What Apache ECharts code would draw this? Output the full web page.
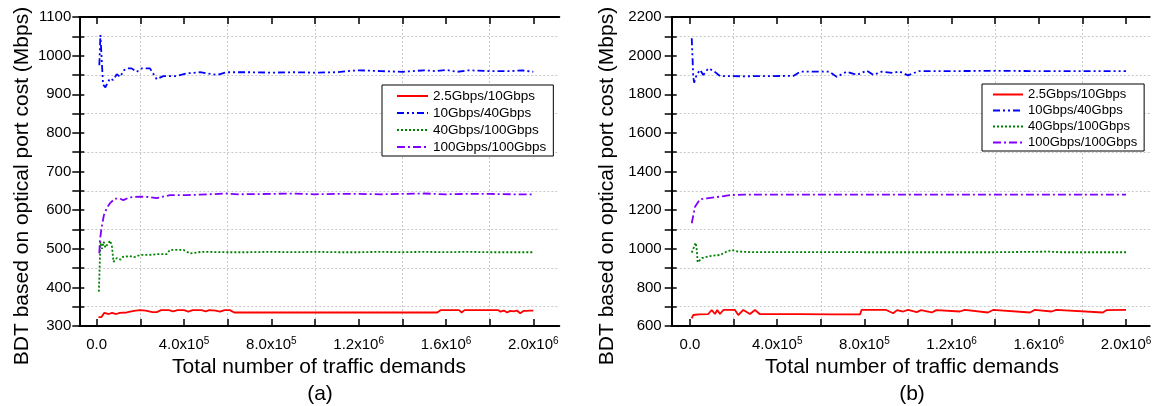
<!DOCTYPE html>
<html><head><meta charset="utf-8">
<script src="https://cdn.jsdelivr.net/npm/echarts@6/dist/echarts.min.js"></script>
<style>html,body{margin:0;padding:0;background:#fff}#c{width:1156px;height:406px}</style>
</head><body><div id="c"></div>
<script>
// ---------- data ----------
const seriesNames = ['2.5Gbps/10Gbps', '10Gbps/40Gbps', '40Gbps/100Gbps', '100Gbps/100Gbps'];
const xTitle = 'Total number of traffic demands';
const yTitle = 'BDT based on optical port cost (Mbps)';
const captions = ['(a)', '(b)'];
const xTicks = [0, 400000, 800000, 1200000, 1600000, 2000000];
const yRangeA = [300, 1100];
const yRangeB = [600, 2200];

// chart (a)
const aRed = [[8000,323],[22000,323],[35000,334],[55000,331],[70000,334],[90000,331],[105000,334],[137000,335],[170000,339],[198000,341],[225000,340],[255000,336],[275000,336],[295000,341],[330000,341],[350000,338],[370000,341],[400000,341],[420000,337],[440000,341],[480000,341],[500000,338],[515000,341],[545000,340],[565000,337],[585000,341],[610000,341],[630000,335],[800000,335],[1000000,335],[1200000,335],[1400000,335],[1560000,335],[1575000,341],[1660000,341],[1672000,335],[1685000,341],[1840000,341],[1850000,337],[1865000,340],[1880000,335],[1895000,339],[1910000,338],[1925000,340],[1940000,333],[1955000,339],[1970000,339],[1985000,340],[2000000,340]];
const aBlue = [[12000,975],[17000,1053],[22000,1000],[29000,925],[40000,918],[50000,930],[61000,941],[75000,937],[92000,952],[107000,945],[125000,962],[137000,967],[160000,967],[183000,958],[206000,967],[244000,967],[275000,939],[305000,947],[366000,947],[412000,954],[473000,957],[550000,950],[596000,957],[700000,957],[800000,956],[900000,957],[1000000,956],[1100000,957],[1150000,960],[1200000,962],[1300000,960],[1400000,958],[1450000,960],[1500000,962],[1550000,960],[1600000,963],[1650000,958],[1700000,962],[1800000,960],[1900000,960],[1950000,962],[2000000,958]];
const aGreen = [[10000,389],[17000,518],[24000,500],[32000,518],[40000,503],[50000,512],[62000,521],[70000,505],[77000,466],[92000,476],[110000,472],[120000,479],[150000,481],[170000,478],[200000,484],[240000,484],[280000,486],[320000,486],[336000,497],[397000,497],[427000,488],[480000,492],[600000,491],[700000,491],[800000,492],[900000,491],[1000000,492],[1100000,491],[1200000,491],[1300000,492],[1400000,491],[1500000,492],[1600000,491],[1700000,492],[1800000,491],[1900000,491],[2000000,491]];
const aPurple = [[12000,488],[15000,523],[23000,557],[33000,587],[46000,605],[61000,618],[84000,630],[105000,630],[122000,626],[150000,633],[198000,635],[235000,634],[275000,631],[336000,639],[412000,639],[473000,640],[596000,643],[650000,641],[800000,642],[900000,643],[1000000,641],[1100000,642],[1200000,642],[1300000,641],[1400000,642],[1500000,643],[1600000,641],[1700000,642],[1800000,642],[1900000,641],[2000000,641]];

// chart (b)
const bRed = [[8000,640],[15000,657],[40000,660],[84000,662],[99500,683],[114700,662],[125000,683],[137600,662],[153000,683],[206000,683],[221700,657],[244500,683],[275000,662],[298000,683],[321000,661],[500000,661],[650000,660],[780000,660],[787000,683],[900000,683],[932000,666],[950000,682],[978000,675],[1000000,683],[1040000,672],[1060000,682],[1109000,670],[1130000,682],[1238000,675],[1260000,683],[1367000,670],[1390000,683],[1560000,670],[1580000,683],[1659000,675],[1680000,683],[1894000,670],[1910000,682],[2000000,683]];
const bBlue = [[8000,2090],[15000,1891],[19000,1860],[30000,1900],[46000,1926],[61000,1900],[84000,1934],[107000,1922],[138000,1894],[170000,1894],[250000,1893],[350000,1894],[474000,1895],[505000,1917],[566000,1917],[640000,1917],[673000,1890],[719000,1917],[765000,1900],[811000,1922],[841000,1900],[880000,1917],[930000,1910],[960000,1918],[1000000,1898],[1050000,1920],[1200000,1920],[1400000,1921],[1600000,1920],[1800000,1920],[2000000,1920]];
const bGreen = [[8000,980],[15000,985],[26000,1031],[31000,994],[35000,930],[54000,951],[92000,962],[138000,968],[168000,985],[191000,994],[222000,985],[300000,982],[500000,983],[800000,982],[1100000,982],[1400000,982],[1650000,985],[1700000,982],[2000000,982]];
const bPurple = [[8000,1132],[23000,1218],[46000,1256],[77000,1261],[138000,1270],[183000,1278],[250000,1280],[500000,1280],[800000,1280],[1100000,1280],[1400000,1280],[1700000,1280],[2000000,1280]];

// ---------- styles ----------
const FONT = "'Liberation Sans', Arial, sans-serif";
const lineStyles = [
  {color: '#ff0000', type: 'solid'},
  {color: '#0000ff', type: [7, 3, 2, 3, 2, 3]},
  {color: '#008000', type: [2, 2]},
  {color: '#8000ff', type: [8, 3, 2, 3]}
];
const gridLine = {show: true, lineStyle: {color: '#c8c8c8', type: [2, 2], width: 1}};
const black = '#000';

function fmtX(v) {
  if (v === 0) return '{n|0.0}';
  const e = Math.floor(Math.log10(v) + 1e-9);
  const m = (v / Math.pow(10, e)).toFixed(1);
  return '{n|' + m + 'x10}{s|' + e + '}';
}

const grids = [
  {left: 79.3, top: 17, width: 480, height: 309},
  {left: 96.7, top: 17, width: 436.6, height: 309},
  {left: 671.7, top: 17, width: 478, height: 309},
  {left: 690, top: 17, width: 436, height: 309}
];

function frameX(gi, pos) {
  return {type: 'value', gridIndex: gi, position: pos, min: 0, max: 1,
    axisLine: {show: true, lineStyle: {color: black, width: 2}},
    axisTick: {show: false}, axisLabel: {show: false}, splitLine: {show: false}};
}
function dataX(gi, pos, labels) {
  return {type: 'value', gridIndex: gi, position: pos, min: xTicks[0], max: xTicks[xTicks.length - 1],
    interval: xTicks[1] - xTicks[0],
    axisLine: {show: false},
    axisTick: {show: true, inside: true, length: 7, lineStyle: {color: black, width: 1.5}},
    minorTick: {show: true, splitNumber: 2, length: 7, lineStyle: {color: black, width: 1.5}},
    splitLine: {show: false},
    minorSplitLine: labels ? gridLine : {show: false},
    axisLabel: labels ? {show: true, margin: 10, formatter: fmtX, color: black,
      rich: {n: {fontSize: 15, fontFamily: FONT, color: black, lineHeight: 18},
             s: {fontSize: 10, fontFamily: FONT, color: black, lineHeight: 18, verticalAlign: 'top'}}} : {show: false}};
}
function frameY(gi, pos, range, step, labels, margin) {
  return {type: 'value', gridIndex: gi, position: pos, min: range[0], max: range[1], interval: step,
    axisLine: {show: true, lineStyle: {color: black, width: 2}},
    axisTick: {show: true, inside: true, length: labels ? 5 : 7, lineStyle: {color: black, width: 1.5}},
    minorTick: {show: true, splitNumber: 2, length: labels ? 5 : 7, lineStyle: {color: black, width: 1.5}},
    splitLine: {show: false},
    minorSplitLine: labels ? gridLine : {show: false},
    axisLabel: labels ? {show: true, margin: margin, fontSize: 15, fontFamily: FONT, color: black,
      formatter: v => String(v)} : {show: false}};
}
function hiddenY(gi, range) {
  return {type: 'value', gridIndex: gi, min: range[0], max: range[1], show: false};
}

const xAxes = [
  frameX(0, 'bottom'), frameX(0, 'top'), dataX(1, 'bottom', true), dataX(1, 'top', false),
  frameX(2, 'bottom'), frameX(2, 'top'), dataX(3, 'bottom', true), dataX(3, 'top', false)
];
const yAxes = [
  frameY(0, 'left', yRangeA, 100, true, 8), frameY(0, 'right', yRangeA, 100, false), hiddenY(1, yRangeA),
  frameY(2, 'left', yRangeB, 200, true, 10), frameY(2, 'right', yRangeB, 200, false), hiddenY(3, yRangeB)
];

function mk(name, idx, data, xi, yi) {
  return {name: name, type: 'line', data: data, xAxisIndex: xi, yAxisIndex: yi,
    symbol: 'none', showSymbol: false, smooth: false, animation: false,
    lineStyle: {color: lineStyles[idx].color, type: lineStyles[idx].type, width: 1.8},
    itemStyle: {color: lineStyles[idx].color}};
}
const seriesA = [aRed, aBlue, aGreen, aPurple];
const seriesB = [bRed, bBlue, bGreen, bPurple];
const series = [];
seriesA.forEach((d, i) => series.push(mk(seriesNames[i], i, d, 2, 2)));
seriesB.forEach((d, i) => series.push(mk(seriesNames[i], i, d, 6, 5)));

function legend(left, top, fs, iw, padL) {
  return {data: seriesNames, orient: 'vertical', left: left, top: top,
    itemWidth: iw, itemHeight: 14, itemGap: 3,
    padding: [4, 7, 2, padL], borderColor: black, borderWidth: 1, backgroundColor: '#fff',
    itemStyle: {opacity: 0, borderWidth: 0},
    textStyle: {fontSize: fs, fontFamily: FONT, color: black}, selectedMode: false};
}

function txt(x, y, s, size, rot) {
  return {type: 'text', x: x, y: y, rotation: rot || 0, silent: true, z: 10,
    style: {text: s, font: size + 'px ' + FONT, fill: black, textAlign: 'center', textVerticalAlign: 'middle'}};
}

const option = {
  backgroundColor: '#fff',
  animation: false,
  grid: grids,
  xAxis: xAxes,
  yAxis: yAxes,
  legend: [legend(382, 85, 13.5, 31, 14), legend(982, 84, 13, 30, 10)],
  series: series,
  graphic: [
    txt(22, 186, yTitle, 21, Math.PI / 2),
    txt(607, 186, yTitle, 21, Math.PI / 2),
    txt(319, 367, xTitle, 21),
    txt(912, 367, xTitle, 21),
    txt(320, 394, captions[0], 21),
    txt(912, 394, captions[1], 21)
  ]
};
const chart = echarts.init(document.getElementById('c'), null, {renderer: 'canvas'});
chart.setOption(option);
</script></body></html>
